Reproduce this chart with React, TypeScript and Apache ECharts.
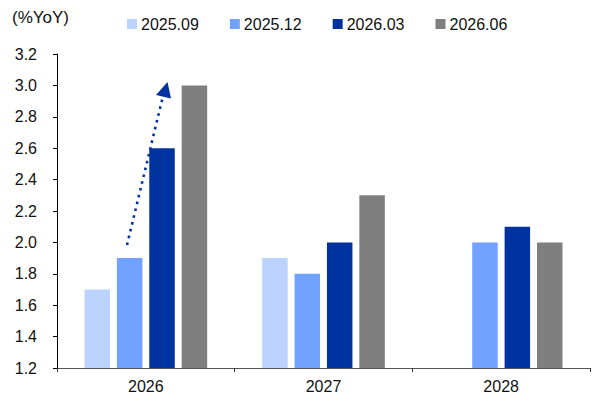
import React, { useEffect, useRef } from "react";
import * as echarts from "echarts";

const categories = ["2026", "2027", "2028"];
const seriesNames = ["2025.09", "2025.12", "2026.03", "2026.06"];
const v202509 = [1.7, 1.9, null];
const v202512 = [1.9, 1.8, 2.0];
const v202603 = [2.6, 2.0, 2.1];
const v202606 = [3.0, 2.3, 2.0];
const colors = ["#BCD3FF", "#72A2FF", "#0033A0", "#7F7F7F"];
const yTicks = { min: 1.2, max: 3.2, interval: 0.2 };

const FONT = "Liberation Sans, Arial, sans-serif";

export default function App() {
  const ref = useRef<HTMLDivElement>(null);
  useEffect(() => {
    if (!ref.current) return;
    const chart = echarts.init(ref.current, null, { renderer: "svg" });
    const values = [v202509, v202512, v202603, v202606];
    chart.setOption({
      animation: false,
      backgroundColor: "#fff",
      grid: { left: 57, right: 5, top: 54, bottom: 35 },
      legend: {
        left: 122,
        top: 11,
        itemWidth: 10,
        itemHeight: 10,
        itemGap: 31,
        icon: "rect",
        textStyle: { fontFamily: FONT, fontSize: 16, color: "#111", padding: [0, 0, 0, -1] },
        data: seriesNames,
      },
      xAxis: {
        type: "category",
        data: categories,
        boundaryGap: true,
        axisLine: { lineStyle: { color: "#555", width: 1 } },
        axisTick: { show: true, length: 4, lineStyle: { color: "#333" } },
        axisLabel: { fontFamily: FONT, fontSize: 16, color: "#111", margin: 10 },
      },
      yAxis: {
        type: "value",
        min: yTicks.min,
        max: yTicks.max,
        interval: yTicks.interval,
        splitLine: { show: false },
        axisLine: { show: true, lineStyle: { color: "#000", width: 1 } },
        axisTick: { show: true, length: 4, lineStyle: { color: "#000" } },
        axisLabel: {
          fontFamily: FONT,
          fontSize: 16,
          color: "#111",
          margin: 20,
          formatter: (v: number) => v.toFixed(1),
        },
      },
      series: seriesNames.map((n, i) => ({
        name: n,
        type: "bar",
        data: values[i],
        barWidth: 25.5,
        barGap: "27%",
        itemStyle: { color: colors[i] },
      })),
      graphic: [
        {
          type: "text",
          left: 12,
          top: 9,
          style: {
            text: "(%YoY)",
            fontFamily: FONT,
            fontSize: 17,
            fill: "#111",
          },
        },
        {
          type: "line",
          shape: { x1: 127, y1: 245, x2: 163, y2: 96 },
          style: { stroke: "#0033A0", lineWidth: 2.6, lineDash: [2.6, 4.4] },
          z: 100,
        },
        {
          type: "polygon",
          shape: { points: [[156, 95], [167.5, 82], [171, 98.5]] },
          style: { fill: "#0033A0" },
          z: 100,
        },
      ],
    });
    return () => chart.dispose();
  }, []);
  return (
    <div
      ref={ref}
      style={{ position: "absolute", left: 0, top: 0, width: 595, height: 403 }}
    />
  );
}
